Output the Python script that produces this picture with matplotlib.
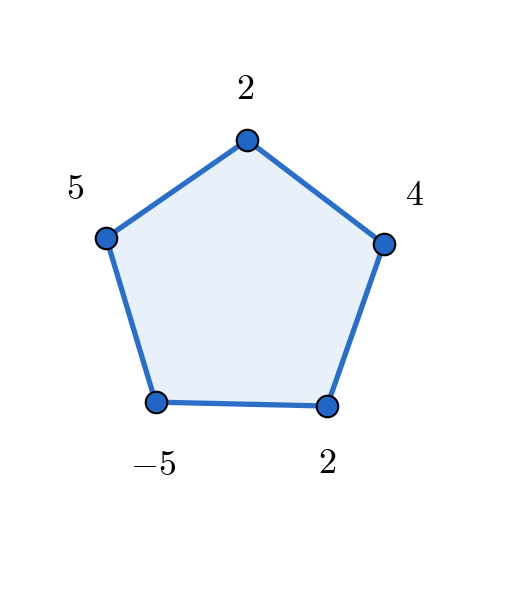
import numpy as np
import matplotlib
matplotlib.use("Agg")
import matplotlib.pyplot as plt

plt.rcParams['mathtext.fontset'] = 'cm'

values = [2, 4, 2, -5, 5]
start_angle_deg = 88.7

n = len(values)
angles = np.deg2rad(start_angle_deg - 360.0 / n * np.arange(n))
xs = np.cos(angles)
ys = np.sin(angles)

fig = plt.figure(figsize=(5.08, 5.94), dpi=100)
ax = fig.add_axes([0, 0, 1, 1])
ax.set_xlim(-244 / 146, (508 - 244) / 146)
ax.set_ylim(-(594 - 286) / 146, 286 / 146)
ax.set_aspect('equal')
ax.axis('off')

ax.fill(xs, ys, color='#e8f1f9', zorder=1)
ax.plot(np.append(xs, xs[0]), np.append(ys, ys[0]), color='#2a6ec6', lw=3.8,
        solid_joinstyle='round', zorder=2)
ax.plot(xs, ys, 'o', ms=15.5, mfc='#2166c4', mec='black', mew=1.5, zorder=3, ls='none')

offsets = [(-2, 51), (31, 49), (0, -57), (-2, -63), (-31, 49)]
for x, y, v, off in zip(xs, ys, values, offsets):
    ax.annotate(f'${v}$', (x, y), xytext=(off[0] * 0.72, off[1] * 0.72),
                textcoords='offset points', ha='center', va='center',
                fontsize=26)

fig.savefig('out.png', dpi=100)
